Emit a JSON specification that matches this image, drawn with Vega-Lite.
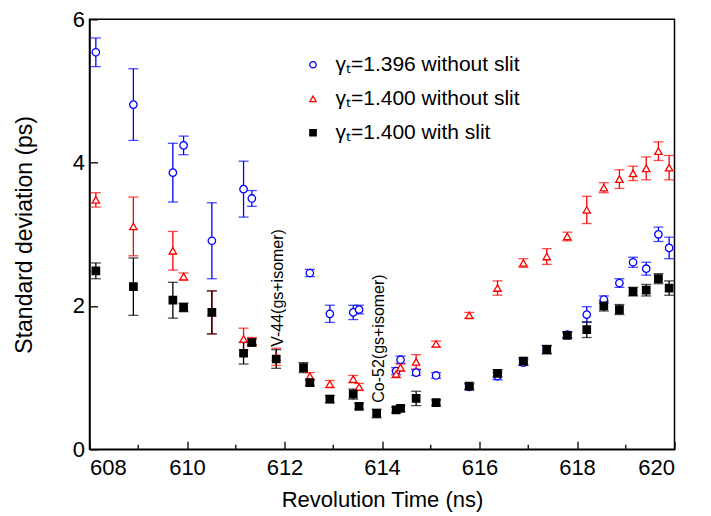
{
  "$schema": "https://vega.github.io/schema/vega-lite/v6.json",
  "width": 585,
  "height": 430,
  "autosize": "none",
  "padding": {"left": 89.5, "top": 19.3, "right": 36, "bottom": 67},
  "config": {
    "font": "Liberation Sans",
    "view": {"stroke": "black", "strokeWidth": 1.5}
  },
  "datasets": {
    "pts": [
      {"s": "γₜ=1.396 without slit", "x": 608.13, "y": 5.54, "lo": 5.34, "hi": 5.74},
      {"s": "γₜ=1.396 without slit", "x": 608.90, "y": 4.81, "lo": 4.31, "hi": 5.31},
      {"s": "γₜ=1.396 without slit", "x": 609.71, "y": 3.86, "lo": 3.45, "hi": 4.27},
      {"s": "γₜ=1.396 without slit", "x": 609.93, "y": 4.24, "lo": 4.11, "hi": 4.37},
      {"s": "γₜ=1.396 without slit", "x": 610.51, "y": 2.91, "lo": 2.38, "hi": 3.44},
      {"s": "γₜ=1.396 without slit", "x": 611.16, "y": 3.63, "lo": 3.24, "hi": 4.02},
      {"s": "γₜ=1.396 without slit", "x": 611.33, "y": 3.50, "lo": 3.39, "hi": 3.61},
      {"s": "γₜ=1.396 without slit", "x": 612.52, "y": 2.46, "lo": 2.41, "hi": 2.51},
      {"s": "γₜ=1.396 without slit", "x": 612.93, "y": 1.89, "lo": 1.77, "hi": 2.01},
      {"s": "γₜ=1.396 without slit", "x": 613.41, "y": 1.91, "lo": 1.81, "hi": 2.01},
      {"s": "γₜ=1.396 without slit", "x": 613.53, "y": 1.95, "lo": 1.89, "hi": 2.01},
      {"s": "γₜ=1.396 without slit", "x": 614.29, "y": 1.09, "lo": 1.04, "hi": 1.14},
      {"s": "γₜ=1.396 without slit", "x": 614.38, "y": 1.25, "lo": 1.20, "hi": 1.30},
      {"s": "γₜ=1.396 without slit", "x": 614.70, "y": 1.07, "lo": 1.03, "hi": 1.11},
      {"s": "γₜ=1.396 without slit", "x": 615.11, "y": 1.03, "lo": 0.99, "hi": 1.07},
      {"s": "γₜ=1.396 without slit", "x": 615.79, "y": 0.87, "lo": 0.83, "hi": 0.91},
      {"s": "γₜ=1.396 without slit", "x": 616.37, "y": 1.02, "lo": 0.97, "hi": 1.07},
      {"s": "γₜ=1.396 without slit", "x": 616.90, "y": 1.21, "lo": 1.17, "hi": 1.25},
      {"s": "γₜ=1.396 without slit", "x": 617.38, "y": 1.39, "lo": 1.34, "hi": 1.44},
      {"s": "γₜ=1.396 without slit", "x": 617.80, "y": 1.60, "lo": 1.56, "hi": 1.64},
      {"s": "γₜ=1.396 without slit", "x": 618.20, "y": 1.88, "lo": 1.77, "hi": 1.99},
      {"s": "γₜ=1.396 without slit", "x": 618.55, "y": 2.09, "lo": 2.04, "hi": 2.14},
      {"s": "γₜ=1.396 without slit", "x": 618.87, "y": 2.32, "lo": 2.26, "hi": 2.38},
      {"s": "γₜ=1.396 without slit", "x": 619.15, "y": 2.61, "lo": 2.54, "hi": 2.68},
      {"s": "γₜ=1.396 without slit", "x": 619.42, "y": 2.52, "lo": 2.43, "hi": 2.61},
      {"s": "γₜ=1.396 without slit", "x": 619.67, "y": 3.00, "lo": 2.90, "hi": 3.10},
      {"s": "γₜ=1.396 without slit", "x": 619.89, "y": 2.81, "lo": 2.66, "hi": 2.96},
      {"s": "γₜ=1.400 without slit", "x": 608.13, "y": 3.48, "lo": 3.38, "hi": 3.58},
      {"s": "γₜ=1.400 without slit", "x": 608.90, "y": 3.11, "lo": 2.70, "hi": 3.52},
      {"s": "γₜ=1.400 without slit", "x": 609.71, "y": 2.77, "lo": 2.50, "hi": 3.04},
      {"s": "γₜ=1.400 without slit", "x": 609.93, "y": 2.41, "lo": 2.36, "hi": 2.46},
      {"s": "γₜ=1.400 without slit", "x": 610.51, "y": 1.91, "lo": 1.61, "hi": 2.21},
      {"s": "γₜ=1.400 without slit", "x": 611.16, "y": 1.54, "lo": 1.39, "hi": 1.69},
      {"s": "γₜ=1.400 without slit", "x": 611.33, "y": 1.51, "lo": 1.46, "hi": 1.56},
      {"s": "γₜ=1.400 without slit", "x": 611.83, "y": 1.29, "lo": 1.17, "hi": 1.41},
      {"s": "γₜ=1.400 without slit", "x": 612.52, "y": 1.02, "lo": 0.97, "hi": 1.07},
      {"s": "γₜ=1.400 without slit", "x": 612.93, "y": 0.91, "lo": 0.86, "hi": 0.96},
      {"s": "γₜ=1.400 without slit", "x": 613.41, "y": 0.98, "lo": 0.93, "hi": 1.03},
      {"s": "γₜ=1.400 without slit", "x": 613.53, "y": 0.87, "lo": 0.82, "hi": 0.92},
      {"s": "γₜ=1.400 without slit", "x": 614.29, "y": 1.05, "lo": 1.00, "hi": 1.10},
      {"s": "γₜ=1.400 without slit", "x": 614.38, "y": 1.14, "lo": 1.09, "hi": 1.19},
      {"s": "γₜ=1.400 without slit", "x": 614.70, "y": 1.22, "lo": 1.12, "hi": 1.32},
      {"s": "γₜ=1.400 without slit", "x": 615.11, "y": 1.47, "lo": 1.43, "hi": 1.51},
      {"s": "γₜ=1.400 without slit", "x": 615.79, "y": 1.87, "lo": 1.83, "hi": 1.91},
      {"s": "γₜ=1.400 without slit", "x": 616.37, "y": 2.25, "lo": 2.15, "hi": 2.35},
      {"s": "γₜ=1.400 without slit", "x": 616.90, "y": 2.60, "lo": 2.54, "hi": 2.66},
      {"s": "γₜ=1.400 without slit", "x": 617.38, "y": 2.69, "lo": 2.58, "hi": 2.80},
      {"s": "γₜ=1.400 without slit", "x": 617.80, "y": 2.97, "lo": 2.91, "hi": 3.03},
      {"s": "γₜ=1.400 without slit", "x": 618.20, "y": 3.34, "lo": 3.15, "hi": 3.53},
      {"s": "γₜ=1.400 without slit", "x": 618.55, "y": 3.65, "lo": 3.58, "hi": 3.72},
      {"s": "γₜ=1.400 without slit", "x": 618.87, "y": 3.77, "lo": 3.64, "hi": 3.90},
      {"s": "γₜ=1.400 without slit", "x": 619.15, "y": 3.85, "lo": 3.75, "hi": 3.95},
      {"s": "γₜ=1.400 without slit", "x": 619.42, "y": 3.92, "lo": 3.76, "hi": 4.08},
      {"s": "γₜ=1.400 without slit", "x": 619.67, "y": 4.16, "lo": 4.03, "hi": 4.29},
      {"s": "γₜ=1.400 without slit", "x": 619.89, "y": 3.93, "lo": 3.76, "hi": 4.10},
      {"s": "γₜ=1.400 with slit", "x": 608.13, "y": 2.49, "lo": 2.38, "hi": 2.60},
      {"s": "γₜ=1.400 with slit", "x": 608.90, "y": 2.27, "lo": 1.87, "hi": 2.67},
      {"s": "γₜ=1.400 with slit", "x": 609.71, "y": 2.08, "lo": 1.83, "hi": 2.33},
      {"s": "γₜ=1.400 with slit", "x": 609.93, "y": 1.98, "lo": 1.92, "hi": 2.04},
      {"s": "γₜ=1.400 with slit", "x": 610.51, "y": 1.91, "lo": 1.61, "hi": 2.21},
      {"s": "γₜ=1.400 with slit", "x": 611.16, "y": 1.34, "lo": 1.19, "hi": 1.49},
      {"s": "γₜ=1.400 with slit", "x": 611.33, "y": 1.49, "lo": 1.44, "hi": 1.54},
      {"s": "γₜ=1.400 with slit", "x": 611.83, "y": 1.26, "lo": 1.13, "hi": 1.39},
      {"s": "γₜ=1.400 with slit", "x": 612.39, "y": 1.14, "lo": 1.07, "hi": 1.21},
      {"s": "γₜ=1.400 with slit", "x": 612.52, "y": 0.93, "lo": 0.89, "hi": 0.97},
      {"s": "γₜ=1.400 with slit", "x": 612.93, "y": 0.70, "lo": 0.65, "hi": 0.75},
      {"s": "γₜ=1.400 with slit", "x": 613.41, "y": 0.77, "lo": 0.70, "hi": 0.84},
      {"s": "γₜ=1.400 with slit", "x": 613.53, "y": 0.60, "lo": 0.56, "hi": 0.64},
      {"s": "γₜ=1.400 with slit", "x": 613.89, "y": 0.50, "lo": 0.44, "hi": 0.56},
      {"s": "γₜ=1.400 with slit", "x": 614.29, "y": 0.55, "lo": 0.51, "hi": 0.59},
      {"s": "γₜ=1.400 with slit", "x": 614.38, "y": 0.57, "lo": 0.53, "hi": 0.61},
      {"s": "γₜ=1.400 with slit", "x": 614.70, "y": 0.71, "lo": 0.61, "hi": 0.81},
      {"s": "γₜ=1.400 with slit", "x": 615.11, "y": 0.65, "lo": 0.61, "hi": 0.69},
      {"s": "γₜ=1.400 with slit", "x": 615.79, "y": 0.88, "lo": 0.84, "hi": 0.92},
      {"s": "γₜ=1.400 with slit", "x": 616.37, "y": 1.06, "lo": 1.01, "hi": 1.11},
      {"s": "γₜ=1.400 with slit", "x": 616.90, "y": 1.23, "lo": 1.18, "hi": 1.28},
      {"s": "γₜ=1.400 with slit", "x": 617.38, "y": 1.39, "lo": 1.33, "hi": 1.45},
      {"s": "γₜ=1.400 with slit", "x": 617.80, "y": 1.59, "lo": 1.55, "hi": 1.63},
      {"s": "γₜ=1.400 with slit", "x": 618.20, "y": 1.67, "lo": 1.56, "hi": 1.78},
      {"s": "γₜ=1.400 with slit", "x": 618.55, "y": 2.00, "lo": 1.93, "hi": 2.07},
      {"s": "γₜ=1.400 with slit", "x": 618.87, "y": 1.95, "lo": 1.88, "hi": 2.02},
      {"s": "γₜ=1.400 with slit", "x": 619.15, "y": 2.20, "lo": 2.14, "hi": 2.26},
      {"s": "γₜ=1.400 with slit", "x": 619.42, "y": 2.22, "lo": 2.14, "hi": 2.30},
      {"s": "γₜ=1.400 with slit", "x": 619.67, "y": 2.38, "lo": 2.31, "hi": 2.45},
      {"s": "γₜ=1.400 with slit", "x": 619.89, "y": 2.25, "lo": 2.15, "hi": 2.35}
    ],
    "notes": [
      {"x": 611.87, "y": 1.43, "t": "V-44(gs+isomer)"},
      {"x": 613.94, "y": 0.65, "t": "Co-52(gs+isomer)"}
    ],
    "minor": [
      {"v": 609}, {"v": 611}, {"v": 613}, {"v": 615}, {"v": 617}, {"v": 619}
    ]
  },
  "layer": [
    {
      "data": {"name": "pts"},
      "mark": {"type": "rule", "strokeWidth": 1.3},
      "encoding": {
        "x": {"field": "x", "type": "quantitative", "scale": {"domain": [608, 620], "nice": false, "zero": false},
          "axis": {"values": [608,610,612,614,616,618,620], "format": "d", "grid": false, "domainColor": "black", "domainWidth": 1.5, "tickColor": "black", "tickWidth": 1.3, "tickSize": -8, "labelColor": "black", "titleColor": "black", "labelFontSize": 22, "titleFontSize": 22, "titleFontWeight": "normal", "labelFont": "Liberation Sans", "titleFont": "Liberation Sans", "labelPadding": 16, "title": "Revolution Time (ns)", "titlePadding": 11}},
        "y": {"field": "lo", "type": "quantitative", "scale": {"domain": [0, 6], "nice": false},
          "axis": {"values": [0,2,4,6], "format": "d", "grid": false, "domainColor": "black", "domainWidth": 1.5, "tickColor": "black", "tickWidth": 1.3, "tickSize": -8, "labelColor": "black", "titleColor": "black", "labelFontSize": 22, "titleFontSize": 23, "titleFontWeight": "normal", "labelFont": "Liberation Sans", "titleFont": "Liberation Sans", "labelPadding": 13, "title": "Standard deviation (ps)", "titlePadding": 36}},
        "y2": {"field": "hi"},
        "color": {"field": "s", "type": "nominal", "scale": {"domain": ["γₜ=1.396 without slit", "γₜ=1.400 without slit", "γₜ=1.400 with slit"], "range": ["#0000FF", "#FF0000", "#000000"]}, "legend": null}
      }
    },
    {
      "data": {"name": "pts"},
      "mark": {"type": "tick", "orient": "horizontal", "size": 10, "thickness": 1.3},
      "encoding": {
        "x": {"field": "x", "type": "quantitative"},
        "y": {"field": "lo", "type": "quantitative"},
        "color": {"field": "s", "type": "nominal", "scale": {"domain": ["γₜ=1.396 without slit", "γₜ=1.400 without slit", "γₜ=1.400 with slit"], "range": ["#0000FF", "#FF0000", "#000000"]}, "legend": null}
      }
    },
    {
      "data": {"name": "pts"},
      "mark": {"type": "tick", "orient": "horizontal", "size": 10, "thickness": 1.3},
      "encoding": {
        "x": {"field": "x", "type": "quantitative"},
        "y": {"field": "hi", "type": "quantitative"},
        "color": {"field": "s", "type": "nominal", "scale": {"domain": ["γₜ=1.396 without slit", "γₜ=1.400 without slit", "γₜ=1.400 with slit"], "range": ["#0000FF", "#FF0000", "#000000"]}, "legend": null}
      }
    },
    {
      "data": {"name": "minor"},
      "mark": {"type": "rule", "color": "black", "strokeWidth": 1.3},
      "encoding": {
        "x": {"field": "v", "type": "quantitative"},
        "y": {"datum": 0, "type": "quantitative"},
        "y2": {"datum": 0.065}
      }
    },
    {
      "data": {"name": "minor"},
      "transform": [{"filter": "datum.v < 615"}],
      "mark": {"type": "rule", "color": "black", "strokeWidth": 1.3},
      "encoding": {
        "y": {"field": "v", "type": "quantitative", "scale": {"domain": [0, 6], "nice": false}},
        "x": {"datum": 608, "type": "quantitative"},
        "x2": {"datum": 608.1}
      }
    },
    {
      "data": {"name": "pts"},
      "mark": {"type": "point", "strokeWidth": 1.3, "opacity": 1},
      "encoding": {
        "x": {"field": "x", "type": "quantitative"},
        "y": {"field": "y", "type": "quantitative"},
        "shape": {"field": "s", "type": "nominal", "scale": {"domain": ["γₜ=1.396 without slit", "γₜ=1.400 without slit", "γₜ=1.400 with slit"], "range": ["circle", "triangle-up", "square"]},
          "legend": {"title": null, "orient": "none", "legendX": 213, "legendY": 35, "labelFontSize": 21, "labelFont": "Liberation Sans", "labelColor": "black", "labelLimit": 0, "rowPadding": 12, "symbolSize": 40, "labelOffset": 12, "symbolStrokeWidth": 1.3}},
        "stroke": {"field": "s", "type": "nominal", "scale": {"domain": ["γₜ=1.396 without slit", "γₜ=1.400 without slit", "γₜ=1.400 with slit"], "range": ["#0000FF", "#FF0000", "#000000"]}},
        "fill": {"field": "s", "type": "nominal", "scale": {"domain": ["γₜ=1.396 without slit", "γₜ=1.400 without slit", "γₜ=1.400 with slit"], "range": ["#FFFFFF", "#FFFFFF", "#000000"]}},
        "size": {"value": 55}
      }
    },
    {
      "data": {"name": "notes"},
      "mark": {"type": "text", "angle": 270, "align": "left", "baseline": "middle", "fontSize": 16, "font": "Liberation Sans", "color": "black"},
      "encoding": {
        "x": {"field": "x", "type": "quantitative"},
        "y": {"field": "y", "type": "quantitative"},
        "text": {"field": "t"}
      }
    }
  ],
  "resolve": {"scale": {"color": "independent"}}
}
